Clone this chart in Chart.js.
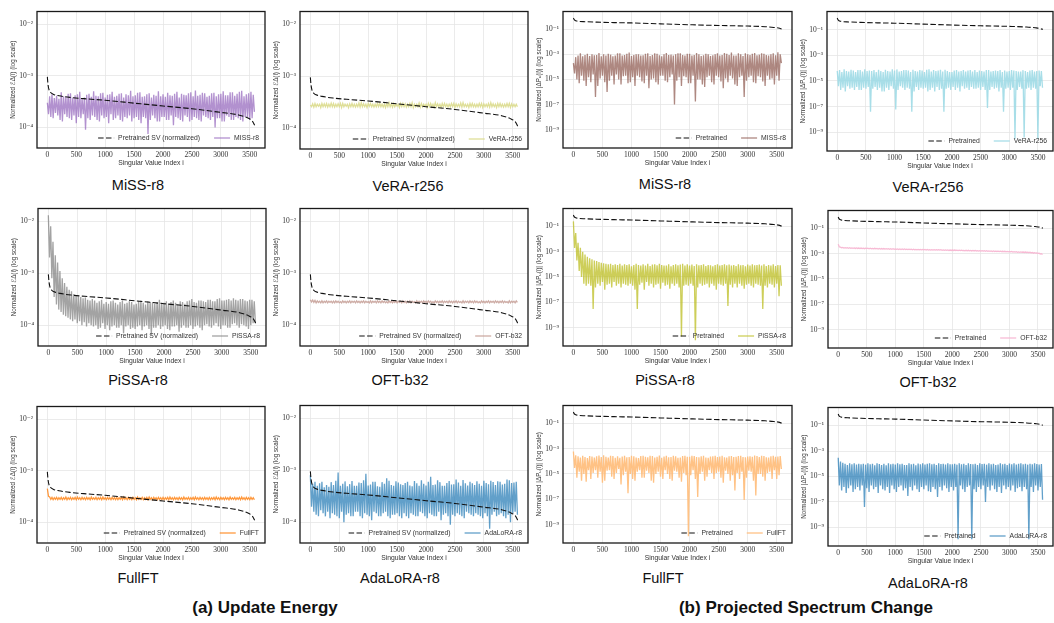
<!DOCTYPE html>
<html>
<head>
<meta charset="utf-8">
<script src="https://cdn.jsdelivr.net/npm/chart.js@4.4.0/dist/chart.umd.min.js"></script>
<style>
  body { margin: 0; width: 1054px; height: 623px; background: #fff; position: relative; overflow: hidden; font-family: "Liberation Sans", Arial, sans-serif; }
  .panel { position: absolute; }
  .title { position: absolute; font-size: 14.5px; color: #111; transform: translate(-50%, -50%); white-space: nowrap; }
  .caption { position: absolute; font-size: 17px; font-weight: bold; color: #111; transform: translate(-50%, -50%); white-space: nowrap; }
</style>
</head>
<body>
<div id="fig"></div>
<div class="caption" style="left:265px; top:608px">(a) Update Energy</div>
<div class="caption" style="left:806px; top:608px">(b) Projected Spectrum Change</div>
<script>
// ----- data -----
// sampled singular value indices for the noisy series (every 20th index)
const sampleIdx = [
  0, 20, 40, 60, 80, 100, 120, 140, 160, 180, 200, 220, 240, 260, 280, 300, 320, 340, 360, 380,
  400, 420, 440, 460, 480, 500, 520, 540, 560, 580, 600, 620, 640, 660, 680, 700, 720, 740, 760, 780,
  800, 820, 840, 860, 880, 900, 920, 940, 960, 980, 1000, 1020, 1040, 1060, 1080, 1100, 1120, 1140, 1160, 1180,
  1200, 1220, 1240, 1260, 1280, 1300, 1320, 1340, 1360, 1380, 1400, 1420, 1440, 1460, 1480, 1500, 1520, 1540, 1560, 1580,
  1600, 1620, 1640, 1660, 1680, 1700, 1720, 1740, 1760, 1780, 1800, 1820, 1840, 1860, 1880, 1900, 1920, 1940, 1960, 1980,
  2000, 2020, 2040, 2060, 2080, 2100, 2120, 2140, 2160, 2180, 2200, 2220, 2240, 2260, 2280, 2300, 2320, 2340, 2360, 2380,
  2400, 2420, 2440, 2460, 2480, 2500, 2520, 2540, 2560, 2580, 2600, 2620, 2640, 2660, 2680, 2700, 2720, 2740, 2760, 2780,
  2800, 2820, 2840, 2860, 2880, 2900, 2920, 2940, 2960, 2980, 3000, 3020, 3040, 3060, 3080, 3100, 3120, 3140, 3160, 3180,
  3200, 3220, 3240, 3260, 3280, 3300, 3320, 3340, 3360, 3380, 3400, 3420, 3440, 3460, 3480, 3500, 3520, 3540, 3560, 3580
];

// pretrained singular value curves
const svIdx = [0, 10, 30, 60, 100, 200, 400, 700, 1000, 1500, 2000, 2500, 3000, 3300, 3450, 3550, 3584];
const svEnergy = [9.5e-4, 7.0e-4, 5.3e-4, 4.7e-4, 4.4e-4, 4.1e-4, 3.8e-4, 3.55e-4, 3.35e-4, 2.95e-4, 2.6e-4, 2.3e-4, 1.95e-4, 1.75e-4, 1.55e-4, 1.3e-4, 1.1e-4];
const svProj = [0.8, 0.62, 0.5, 0.45, 0.42, 0.4, 0.37, 0.34, 0.32, 0.27, 0.23, 0.2, 0.18, 0.16, 0.14, 0.12, 0.105];

// (a) update energy
const missEnergy = [
  3.0e-4, 1.8e-4, 4.0e-4, 1.6e-4, 4.4e-4, 1.5e-4, 3.7e-4, 1.9e-4, 4.1e-4, 1.7e-4, 3.6e-4, 1.4e-4, 4.8e-4, 1.3e-4, 4.0e-4, 1.8e-4, 3.9e-4, 1.6e-4, 4.5e-4, 1.5e-4,
  4.6e-4, 1.4e-4, 3.8e-4, 1.7e-4, 4.2e-4, 1.2e-4, 4.4e-4, 1.6e-4, 4.9e-4, 1.5e-4, 3.7e-4, 1.8e-4, 3.8e-4, 9.0e-5, 4.3e-4, 1.5e-4, 4.5e-4, 1.4e-4, 3.9e-4, 1.7e-4,
  5.0e-4, 1.6e-4, 4.1e-4, 1.4e-4, 4.0e-4, 1.3e-4, 4.6e-4, 1.7e-4, 4.7e-4, 1.5e-4, 3.8e-4, 1.6e-4, 4.3e-4, 1.2e-4, 4.4e-4, 1.8e-4, 4.9e-4, 1.4e-4, 3.9e-4, 1.5e-4,
  4.1e-4, 1.7e-4, 4.5e-4, 1.4e-4, 4.6e-4, 1.3e-4, 3.8e-4, 1.6e-4, 4.4e-4, 1.5e-4, 4.2e-4, 1.7e-4, 5.1e-4, 1.3e-4, 4.0e-4, 1.5e-4, 4.2e-4, 1.6e-4, 4.7e-4, 1.4e-4,
  4.8e-4, 1.2e-4, 3.9e-4, 1.6e-4, 4.0e-4, 1.5e-4, 4.4e-4, 7.5e-5, 4.6e-4, 1.4e-4, 3.8e-4, 1.7e-4, 4.3e-4, 1.5e-4, 4.1e-4, 1.3e-4, 5.0e-4, 1.3e-4, 4.0e-4, 1.6e-4,
  4.4e-4, 1.6e-4, 3.9e-4, 1.4e-4, 4.7e-4, 1.4e-4, 4.2e-4, 1.7e-4, 4.1e-4, 1.1e-4, 4.5e-4, 1.6e-4, 4.9e-4, 1.5e-4, 3.8e-4, 1.4e-4, 4.5e-4, 1.3e-4, 4.3e-4, 1.7e-4,
  4.2e-4, 1.6e-4, 4.6e-4, 1.3e-4, 4.8e-4, 1.4e-4, 4.0e-4, 1.6e-4, 5.2e-4, 1.5e-4, 4.1e-4, 1.4e-4, 4.3e-4, 1.3e-4, 4.7e-4, 1.7e-4, 4.6e-4, 1.6e-4, 3.9e-4, 1.5e-4,
  4.1e-4, 1.4e-4, 4.6e-4, 1.6e-4, 4.7e-4, 1.0e-4, 4.0e-4, 1.5e-4, 4.4e-4, 1.5e-4, 4.5e-4, 1.3e-4, 5.0e-4, 1.3e-4, 4.2e-4, 1.7e-4, 4.2e-4, 1.6e-4, 4.8e-4, 1.4e-4,
  4.8e-4, 1.4e-4, 4.1e-4, 1.6e-4, 4.5e-4, 1.5e-4, 4.9e-4, 1.4e-4, 5.1e-4, 1.3e-4, 4.0e-4, 1.6e-4, 4.4e-4, 1.6e-4, 4.6e-4, 1.4e-4, 4.9e-4, 1.5e-4, 4.3e-4, 2.0e-4
];
const veraEnergy = [
  2.8e-4, 2.6e-4, 2.95e-4, 2.55e-4, 3.0e-4, 2.6e-4, 2.9e-4, 2.65e-4, 2.9e-4, 2.5e-4, 3.0e-4, 2.6e-4, 2.95e-4, 2.6e-4, 3.0e-4, 2.55e-4, 2.9e-4, 2.6e-4, 3.05e-4, 2.6e-4,
  3.0e-4, 2.55e-4, 2.9e-4, 2.6e-4, 2.95e-4, 2.6e-4, 3.0e-4, 2.5e-4, 3.0e-4, 2.6e-4, 2.9e-4, 2.65e-4, 2.9e-4, 2.5e-4, 2.95e-4, 2.6e-4, 3.0e-4, 2.6e-4, 2.9e-4, 2.55e-4,
  2.9e-4, 2.6e-4, 3.05e-4, 2.55e-4, 3.1e-4, 2.6e-4, 2.95e-4, 2.6e-4, 2.9e-4, 2.5e-4, 3.0e-4, 2.65e-4, 3.0e-4, 2.6e-4, 2.9e-4, 2.55e-4, 2.9e-4, 2.6e-4, 3.0e-4, 2.6e-4,
  3.0e-4, 2.6e-4, 2.9e-4, 2.55e-4, 2.9e-4, 2.5e-4, 3.0e-4, 2.6e-4, 3.1e-4, 2.6e-4, 2.95e-4, 2.55e-4, 3.0e-4, 2.6e-4, 2.9e-4, 2.65e-4, 2.9e-4, 2.5e-4, 3.0e-4, 2.6e-4,
  3.0e-4, 2.6e-4, 2.95e-4, 2.55e-4, 2.9e-4, 2.6e-4, 3.0e-4, 2.6e-4, 3.1e-4, 2.5e-4, 2.9e-4, 2.6e-4, 2.9e-4, 2.6e-4, 3.05e-4, 2.55e-4, 3.0e-4, 2.6e-4, 2.9e-4, 2.65e-4,
  2.9e-4, 2.5e-4, 3.0e-4, 2.6e-4, 3.0e-4, 2.6e-4, 2.9e-4, 2.55e-4, 3.1e-4, 2.6e-4, 2.95e-4, 2.6e-4, 2.9e-4, 2.5e-4, 3.0e-4, 2.6e-4, 3.0e-4, 2.6e-4, 2.9e-4, 2.55e-4,
  2.9e-4, 2.6e-4, 3.0e-4, 2.6e-4, 3.0e-4, 2.5e-4, 2.95e-4, 2.6e-4, 2.9e-4, 2.6e-4, 3.05e-4, 2.55e-4, 3.1e-4, 2.6e-4, 2.9e-4, 2.6e-4, 2.9e-4, 2.5e-4, 3.0e-4, 2.6e-4,
  3.0e-4, 2.6e-4, 2.9e-4, 2.55e-4, 2.9e-4, 2.6e-4, 3.0e-4, 2.6e-4, 3.0e-4, 2.5e-4, 2.95e-4, 2.6e-4, 2.9e-4, 2.6e-4, 3.0e-4, 2.55e-4, 3.1e-4, 2.6e-4, 2.95e-4, 2.6e-4,
  2.9e-4, 2.5e-4, 3.0e-4, 2.6e-4, 3.0e-4, 2.6e-4, 2.9e-4, 2.55e-4, 2.9e-4, 2.6e-4, 3.0e-4, 2.6e-4, 3.0e-4, 2.5e-4, 2.95e-4, 2.6e-4, 2.9e-4, 2.6e-4, 2.9e-4, 2.6e-4
];
const pissaEnergy = [
  1.3e-2, 2.0e-3, 8.0e-3, 8.0e-4, 4.0e-3, 3.5e-4, 2.2e-3, 2.5e-4, 1.6e-3, 2.0e-4, 1.1e-3, 1.8e-4, 8.0e-4, 1.6e-4, 6.5e-4, 1.5e-4, 5.5e-4, 1.4e-4, 4.8e-4, 1.3e-4,
  4.5e-4, 1.2e-4, 4.0e-4, 1.3e-4, 3.8e-4, 1.1e-4, 3.6e-4, 1.2e-4, 3.5e-4, 1.0e-4, 3.3e-4, 1.15e-4, 3.4e-4, 9.5e-5, 3.1e-4, 1.1e-4, 3.0e-4, 1.0e-4, 3.2e-4, 9.5e-5,
  3.0e-4, 1.0e-4, 2.7e-4, 8.5e-5, 2.9e-4, 9.0e-5, 3.1e-4, 1.1e-4, 2.6e-4, 8.5e-5, 2.8e-4, 1.0e-4, 2.6e-4, 8.0e-5, 2.9e-4, 9.5e-5, 3.0e-4, 1.0e-4, 2.7e-4, 9.0e-5,
  2.5e-4, 9.0e-5, 2.8e-4, 1.0e-4, 3.0e-4, 7.0e-5, 2.6e-4, 9.5e-5, 2.7e-4, 1.0e-4, 2.9e-4, 8.5e-5, 2.8e-4, 9.0e-5, 2.5e-4, 8.5e-5, 2.6e-4, 9.5e-5, 2.9e-4, 1.0e-4,
  3.0e-4, 8.0e-5, 2.7e-4, 9.5e-5, 2.5e-4, 1.0e-4, 2.9e-4, 8.5e-5, 2.8e-4, 6.5e-5, 2.7e-4, 9.0e-5, 2.6e-4, 9.0e-5, 2.8e-4, 1.0e-4, 3.1e-4, 8.5e-5, 2.7e-4, 9.5e-5,
  2.7e-4, 1.0e-4, 2.9e-4, 8.5e-5, 2.6e-4, 8.0e-5, 2.8e-4, 9.5e-5, 3.0e-4, 9.5e-5, 2.7e-4, 1.0e-4, 2.5e-4, 7.5e-5, 2.9e-4, 9.0e-5, 2.8e-4, 1.0e-4, 2.6e-4, 9.0e-5,
  2.9e-4, 9.0e-5, 3.0e-4, 1.0e-4, 3.2e-4, 8.5e-5, 2.8e-4, 9.5e-5, 2.7e-4, 1.0e-4, 3.0e-4, 9.0e-5, 3.0e-4, 8.0e-5, 2.9e-4, 1.0e-4, 2.8e-4, 1.05e-4, 3.1e-4, 9.5e-5,
  3.1e-4, 9.0e-5, 2.9e-4, 1.0e-4, 2.9e-4, 1.1e-4, 3.2e-4, 9.5e-5, 3.3e-4, 8.5e-5, 3.0e-4, 1.0e-4, 3.0e-4, 1.0e-4, 3.1e-4, 9.0e-5, 3.2e-4, 9.0e-5, 3.0e-4, 1.05e-4,
  3.3e-4, 1.1e-4, 3.1e-4, 1.0e-4, 3.0e-4, 9.0e-5, 3.2e-4, 1.05e-4, 3.2e-4, 1.0e-4, 3.0e-4, 9.5e-5, 2.9e-4, 8.5e-5, 3.1e-4, 1.0e-4, 3.1e-4, 1.1e-4, 2.9e-4, 1.1e-4
];
const oftEnergy = [
  3.1e-4, 2.8e-4, 3.05e-4, 2.75e-4, 3.0e-4, 2.7e-4, 2.95e-4, 2.75e-4, 2.9e-4, 2.7e-4, 2.95e-4, 2.7e-4, 2.9e-4, 2.75e-4, 2.95e-4, 2.7e-4, 2.9e-4, 2.75e-4, 2.9e-4, 2.7e-4,
  2.9e-4, 2.7e-4, 2.95e-4, 2.75e-4, 2.9e-4, 2.7e-4, 2.85e-4, 2.7e-4, 2.95e-4, 2.75e-4, 2.9e-4, 2.7e-4, 2.9e-4, 2.75e-4, 2.95e-4, 2.7e-4, 2.9e-4, 2.75e-4, 2.9e-4, 2.7e-4,
  2.95e-4, 2.75e-4, 2.9e-4, 2.7e-4, 2.9e-4, 2.75e-4, 2.95e-4, 2.7e-4, 2.9e-4, 2.75e-4, 2.85e-4, 2.7e-4, 2.95e-4, 2.7e-4, 2.9e-4, 2.75e-4, 2.9e-4, 2.7e-4, 2.95e-4, 2.75e-4,
  2.9e-4, 2.7e-4, 2.95e-4, 2.75e-4, 2.9e-4, 2.7e-4, 2.85e-4, 2.7e-4, 2.95e-4, 2.75e-4, 2.9e-4, 2.7e-4, 2.9e-4, 2.75e-4, 2.95e-4, 2.7e-4, 2.9e-4, 2.75e-4, 2.9e-4, 2.7e-4,
  2.95e-4, 2.75e-4, 2.9e-4, 2.7e-4, 2.9e-4, 2.75e-4, 2.95e-4, 2.7e-4, 2.9e-4, 2.75e-4, 2.85e-4, 2.7e-4, 2.95e-4, 2.7e-4, 2.9e-4, 2.75e-4, 2.9e-4, 2.7e-4, 2.95e-4, 2.75e-4,
  2.9e-4, 2.7e-4, 2.95e-4, 2.75e-4, 2.9e-4, 2.7e-4, 2.85e-4, 2.7e-4, 2.95e-4, 2.75e-4, 2.9e-4, 2.7e-4, 2.9e-4, 2.75e-4, 2.95e-4, 2.7e-4, 2.9e-4, 2.75e-4, 2.9e-4, 2.7e-4,
  2.95e-4, 2.75e-4, 2.9e-4, 2.7e-4, 2.9e-4, 2.75e-4, 2.95e-4, 2.7e-4, 2.9e-4, 2.75e-4, 2.85e-4, 2.7e-4, 2.95e-4, 2.7e-4, 2.9e-4, 2.75e-4, 2.9e-4, 2.7e-4, 2.95e-4, 2.75e-4,
  2.9e-4, 2.7e-4, 2.95e-4, 2.75e-4, 2.9e-4, 2.7e-4, 2.85e-4, 2.7e-4, 2.95e-4, 2.75e-4, 2.9e-4, 2.7e-4, 2.9e-4, 2.75e-4, 2.95e-4, 2.7e-4, 2.9e-4, 2.75e-4, 2.9e-4, 2.7e-4,
  2.95e-4, 2.75e-4, 2.9e-4, 2.7e-4, 2.9e-4, 2.75e-4, 2.95e-4, 2.7e-4, 2.9e-4, 2.75e-4, 2.85e-4, 2.7e-4, 2.95e-4, 2.7e-4, 2.9e-4, 2.75e-4, 2.9e-4, 2.7e-4, 2.95e-4, 2.75e-4
];
const fullEnergy = [
  4.5e-4, 3.2e-4, 3.1e-4, 2.8e-4, 3.05e-4, 2.75e-4, 3.0e-4, 2.8e-4, 3.05e-4, 2.75e-4, 3.0e-4, 2.8e-4, 3.05e-4, 2.75e-4, 3.0e-4, 2.8e-4, 3.1e-4, 2.75e-4, 3.0e-4, 2.8e-4,
  3.05e-4, 2.75e-4, 3.0e-4, 2.8e-4, 3.05e-4, 2.75e-4, 3.1e-4, 2.8e-4, 3.0e-4, 2.75e-4, 3.05e-4, 2.8e-4, 3.0e-4, 2.75e-4, 3.05e-4, 2.8e-4, 3.0e-4, 2.75e-4, 3.1e-4, 2.8e-4,
  3.0e-4, 2.8e-4, 3.05e-4, 2.75e-4, 3.0e-4, 2.8e-4, 3.05e-4, 2.75e-4, 3.1e-4, 2.8e-4, 3.0e-4, 2.75e-4, 3.05e-4, 2.8e-4, 3.0e-4, 2.75e-4, 3.05e-4, 2.8e-4, 3.0e-4, 2.75e-4,
  3.05e-4, 2.75e-4, 3.0e-4, 2.8e-4, 3.05e-4, 2.75e-4, 3.1e-4, 2.8e-4, 3.0e-4, 2.75e-4, 3.05e-4, 2.8e-4, 3.0e-4, 2.75e-4, 3.05e-4, 2.8e-4, 3.0e-4, 2.75e-4, 3.1e-4, 2.8e-4,
  3.0e-4, 2.8e-4, 3.05e-4, 2.75e-4, 3.0e-4, 2.8e-4, 3.05e-4, 2.75e-4, 3.1e-4, 2.8e-4, 3.0e-4, 2.75e-4, 3.05e-4, 2.8e-4, 3.0e-4, 2.75e-4, 3.05e-4, 2.8e-4, 3.0e-4, 2.75e-4,
  3.05e-4, 2.75e-4, 3.0e-4, 2.8e-4, 3.05e-4, 2.75e-4, 3.1e-4, 2.8e-4, 3.0e-4, 2.75e-4, 3.05e-4, 2.8e-4, 3.0e-4, 2.75e-4, 3.05e-4, 2.8e-4, 3.0e-4, 2.75e-4, 3.1e-4, 2.8e-4,
  3.0e-4, 2.8e-4, 3.05e-4, 2.75e-4, 3.0e-4, 2.8e-4, 3.05e-4, 2.75e-4, 3.1e-4, 2.8e-4, 3.0e-4, 2.75e-4, 3.05e-4, 2.8e-4, 3.0e-4, 2.75e-4, 3.05e-4, 2.8e-4, 3.0e-4, 2.75e-4,
  3.05e-4, 2.75e-4, 3.0e-4, 2.8e-4, 3.05e-4, 2.75e-4, 3.1e-4, 2.8e-4, 3.0e-4, 2.75e-4, 3.05e-4, 2.8e-4, 3.0e-4, 2.75e-4, 3.05e-4, 2.8e-4, 3.0e-4, 2.75e-4, 3.1e-4, 2.8e-4,
  3.0e-4, 2.8e-4, 3.05e-4, 2.75e-4, 3.0e-4, 2.8e-4, 3.05e-4, 2.75e-4, 3.1e-4, 2.8e-4, 3.0e-4, 2.75e-4, 3.05e-4, 2.8e-4, 3.0e-4, 2.75e-4, 3.05e-4, 2.8e-4, 3.0e-4, 2.75e-4
];
const adaEnergy = [
  8.0e-4, 2.0e-4, 5.5e-4, 1.6e-4, 6.0e-4, 1.4e-4, 5.0e-4, 1.3e-4, 5.6e-4, 1.7e-4, 6.0e-4, 1.5e-4, 4.7e-4, 1.3e-4, 5.2e-4, 1.6e-4, 4.8e-4, 1.2e-4, 5.9e-4, 1.5e-4,
  5.2e-4, 1.4e-4, 6.3e-4, 1.3e-4, 9.0e-4, 1.2e-4, 5.0e-4, 1.6e-4, 5.5e-4, 1.0e-4, 6.1e-4, 1.4e-4, 4.9e-4, 1.5e-4, 5.4e-4, 1.3e-4, 6.2e-4, 1.3e-4, 5.0e-4, 1.6e-4,
  5.0e-4, 1.6e-4, 5.8e-4, 1.3e-4, 5.7e-4, 1.2e-4, 6.4e-4, 1.5e-4, 8.5e-4, 1.4e-4, 5.1e-4, 1.3e-4, 5.3e-4, 1.1e-4, 6.0e-4, 1.6e-4, 6.0e-4, 1.5e-4, 4.9e-4, 1.3e-4,
  4.8e-4, 1.3e-4, 5.9e-4, 1.5e-4, 5.5e-4, 1.6e-4, 7.0e-4, 1.3e-4, 6.3e-4, 1.2e-4, 5.2e-4, 1.4e-4, 5.0e-4, 1.4e-4, 6.1e-4, 1.5e-4, 5.8e-4, 1.3e-4, 5.4e-4, 1.2e-4,
  5.2e-4, 1.5e-4, 5.7e-4, 1.3e-4, 6.0e-4, 1.2e-4, 5.1e-4, 1.5e-4, 4.9e-4, 1.4e-4, 6.2e-4, 1.3e-4, 5.6e-4, 1.3e-4, 5.0e-4, 1.6e-4, 6.4e-4, 1.5e-4, 5.5e-4, 1.3e-4,
  5.1e-4, 1.2e-4, 6.0e-4, 1.5e-4, 7.5e-4, 1.4e-4, 5.2e-4, 1.3e-4, 5.3e-4, 1.3e-4, 6.4e-4, 1.6e-4, 5.9e-4, 1.1e-4, 5.0e-4, 1.4e-4, 5.0e-4, 1.5e-4, 5.7e-4, 1.3e-4,
  6.2e-4, 9.0e-5, 5.3e-4, 1.4e-4, 5.4e-4, 1.3e-4, 6.6e-4, 1.5e-4, 5.8e-4, 1.4e-4, 5.0e-4, 1.3e-4, 6.5e-4, 1.2e-4, 5.6e-4, 1.6e-4, 5.1e-4, 1.5e-4, 6.0e-4, 1.4e-4,
  5.6e-4, 1.3e-4, 5.2e-4, 1.5e-4, 6.1e-4, 1.4e-4, 5.5e-4, 1.3e-4, 5.0e-4, 1.2e-4, 6.3e-4, 1.5e-4, 5.7e-4, 1.3e-4, 5.4e-4, 7.5e-5, 6.3e-4, 1.4e-4, 5.9e-4, 1.6e-4,
  5.2e-4, 1.3e-4, 6.1e-4, 1.4e-4, 6.0e-4, 1.5e-4, 5.3e-4, 1.3e-4, 5.5e-4, 1.2e-4, 6.6e-4, 1.4e-4, 6.4e-4, 1.0e-4, 5.7e-4, 1.5e-4, 5.8e-4, 1.6e-4, 6.0e-4, 1.4e-4
];

// (b) projected spectrum change
const missProj = [
  2.0e-4, 3.0e-5, 6.0e-4, 1.0e-5, 8.0e-4, 5.0e-6, 1.2e-3, 2.0e-5, 7.0e-4, 8.0e-6, 9.0e-4, 3.0e-6, 1.1e-3, 1.5e-5, 7.5e-4, 6.0e-6, 1.0e-3, 2.5e-5, 8.5e-4, 4.0e-7,
  9.0e-4, 3.0e-6, 1.3e-3, 1.2e-5, 7.0e-4, 2.0e-5, 1.0e-3, 6.0e-6, 8.0e-4, 1.0e-6, 1.1e-3, 8.0e-6, 9.5e-4, 2.0e-5, 7.0e-4, 4.0e-6, 8.0e-4, 2.5e-5, 1.2e-3, 1.0e-5,
  1.2e-3, 4.0e-6, 8.0e-4, 1.8e-5, 9.0e-4, 2.0e-5, 1.1e-3, 5.0e-6, 1.4e-3, 6.0e-6, 7.5e-4, 1.5e-5, 9.0e-4, 3.0e-6, 1.0e-3, 2.0e-5, 1.0e-3, 1.5e-5, 8.0e-4, 7.0e-6,
  8.5e-4, 5.0e-6, 1.1e-3, 2.0e-5, 1.2e-3, 2.0e-6, 7.5e-4, 1.0e-5, 9.0e-4, 1.2e-5, 1.2e-3, 6.0e-6, 1.1e-3, 4.0e-6, 8.5e-4, 2.0e-5, 7.0e-4, 2.0e-5, 1.0e-3, 8.0e-6,
  1.3e-3, 6.0e-6, 9.0e-4, 1.5e-5, 9.5e-4, 2.5e-5, 8.0e-4, 1.0e-7, 1.0e-3, 8.0e-6, 1.2e-3, 1.5e-5, 1.2e-3, 3.0e-6, 9.0e-4, 1.8e-5, 8.0e-4, 1.5e-5, 1.1e-3, 5.0e-6,
  1.1e-3, 5.0e-6, 8.0e-4, 2.0e-5, 9.0e-4, 1.8e-7, 1.3e-3, 1.0e-5, 1.0e-3, 1.0e-5, 7.5e-4, 4.0e-6, 8.5e-4, 2.5e-6, 1.1e-3, 1.5e-5, 1.0e-3, 2.0e-5, 7.5e-4, 6.0e-6,
  8.5e-4, 4.0e-6, 1.0e-3, 2.0e-5, 1.2e-3, 1.5e-5, 8.0e-4, 7.0e-6, 9.0e-4, 2.0e-6, 1.3e-3, 1.2e-5, 1.1e-3, 6.0e-6, 9.0e-4, 2.0e-5, 1.4e-3, 1.2e-5, 8.0e-4, 4.0e-6,
  8.0e-4, 3.0e-6, 1.2e-3, 1.5e-5, 1.0e-3, 2.0e-5, 7.5e-4, 4.0e-7, 1.2e-3, 8.0e-6, 1.0e-3, 1.5e-5, 9.0e-4, 2.0e-5, 1.1e-3, 6.0e-6, 1.3e-3, 5.0e-6, 8.5e-4, 1.8e-5,
  9.5e-4, 1.5e-5, 1.2e-3, 7.0e-6, 1.1e-3, 3.0e-6, 9.0e-4, 2.0e-5, 8.0e-4, 1.0e-5, 1.0e-3, 1.2e-5, 1.2e-3, 4.0e-6, 8.5e-4, 2.0e-5, 1.5e-3, 8.0e-6, 1.0e-3, 2.0e-4
];
const veraProj = [
  6.0e-5, 4.0e-6, 7.0e-5, 2.0e-6, 5.0e-5, 3.0e-6, 8.0e-5, 1.5e-6, 6.0e-5, 4.0e-6, 5.5e-5, 2.5e-6, 7.5e-5, 3.0e-6, 6.5e-5, 2.0e-6, 5.0e-5, 3.5e-6, 7.0e-5, 2.0e-6,
  7.0e-5, 2.0e-6, 5.5e-5, 3.0e-6, 8.0e-5, 2.5e-6, 6.0e-5, 3.5e-6, 6.5e-5, 4.0e-8, 6.0e-5, 2.5e-6, 7.0e-5, 3.5e-6, 5.0e-5, 2.0e-6, 7.5e-5, 3.0e-6, 6.0e-5, 1.5e-6,
  5.0e-5, 1.5e-6, 7.5e-5, 3.0e-6, 6.0e-5, 2.0e-6, 5.5e-5, 4.0e-6, 8.0e-5, 2.5e-6, 6.5e-5, 6.0e-8, 8.0e-5, 2.0e-6, 5.5e-5, 4.0e-6, 6.0e-5, 3.0e-6, 7.0e-5, 2.0e-6,
  7.0e-5, 3.0e-6, 6.5e-5, 2.5e-6, 5.0e-5, 4.0e-8, 7.5e-5, 1.5e-6, 6.0e-5, 3.5e-6, 5.5e-5, 2.0e-6, 7.0e-5, 3.0e-6, 6.5e-5, 2.5e-6, 5.0e-5, 3.0e-6, 7.5e-5, 1.5e-6,
  8.0e-5, 2.0e-6, 5.5e-5, 3.0e-6, 7.0e-5, 1.5e-6, 6.0e-5, 3.5e-6, 6.5e-5, 2.0e-6, 7.5e-5, 2.5e-6, 5.5e-5, 4.0e-8, 7.5e-5, 2.5e-6, 6.0e-5, 3.0e-6, 5.0e-5, 2.0e-6,
  5.0e-5, 3.5e-6, 6.5e-5, 2.0e-6, 7.0e-5, 3.0e-6, 5.5e-5, 1.5e-6, 6.0e-5, 4.0e-6, 7.0e-5, 2.5e-6, 5.5e-5, 3.0e-6, 6.5e-5, 2.0e-6, 7.0e-5, 3.5e-6, 5.5e-5, 2.5e-6,
  7.0e-5, 2.5e-6, 5.0e-5, 3.0e-6, 6.5e-5, 2.0e-6, 6.0e-5, 3.5e-6, 5.5e-5, 2.0e-6, 7.0e-5, 8.0e-8, 7.0e-5, 2.0e-6, 5.5e-5, 3.5e-6, 6.0e-5, 2.5e-6, 6.5e-5, 3.0e-6,
  6.0e-5, 1.5e-6, 7.0e-5, 3.0e-6, 5.0e-5, 4.0e-8, 6.5e-5, 2.5e-6, 5.5e-5, 3.0e-6, 6.0e-5, 2.0e-6, 7.0e-5, 3.0e-6, 6.5e-5, 3.0e-10, 6.0e-5, 2.0e-6, 5.5e-5, 3.5e-6,
  5.5e-5, 2.5e-6, 7.0e-5, 4.0e-10, 6.0e-5, 2.5e-6, 5.0e-5, 3.0e-6, 6.5e-5, 2.0e-6, 7.0e-5, 3.0e-6, 5.5e-5, 2.5e-6, 6.0e-5, 3.0e-10, 6.5e-5, 4.0e-6, 6.0e-5, 3.0e-6
];
const pissaProj = [
  2.5e-1, 2.0e-3, 3.0e-2, 2.0e-4, 5.0e-3, 3.0e-5, 2.0e-3, 1.0e-5, 1.0e-3, 3.0e-6, 6.0e-4, 2.0e-6, 4.0e-4, 3.0e-6, 3.0e-4, 2.0e-6, 2.5e-4, 3.0e-8, 2.0e-4, 1.5e-6,
  1.8e-4, 3.0e-6, 1.5e-4, 2.0e-6, 1.3e-4, 4.0e-6, 1.2e-4, 1.0e-6, 1.1e-4, 2.5e-6, 1.0e-4, 3.0e-6, 1.1e-4, 1.5e-6, 9.0e-5, 4.0e-6, 1.0e-4, 2.0e-6, 9.0e-5, 3.0e-6,
  1.1e-4, 1.5e-6, 8.0e-5, 3.0e-6, 1.0e-4, 2.5e-6, 9.0e-5, 2.0e-6, 1.0e-4, 3.0e-6, 7.0e-5, 2.0e-6, 9.0e-5, 1.0e-6, 1.1e-4, 3.0e-8, 9.0e-5, 2.5e-6, 8.0e-5, 3.5e-6,
  1.0e-4, 1.0e-6, 8.0e-5, 4.0e-6, 1.1e-4, 2.0e-6, 7.5e-5, 3.0e-6, 9.5e-5, 1.5e-6, 1.0e-4, 2.5e-6, 8.5e-5, 3.0e-6, 1.1e-4, 1.2e-6, 9.0e-5, 3.5e-6, 8.0e-5, 2.0e-6,
  8.0e-5, 2.5e-6, 1.0e-4, 1.2e-6, 7.0e-5, 3.0e-6, 9.0e-5, 2.0e-6, 1.0e-4, 3.0e-6, 8.5e-5, 1.5e-6, 9.5e-5, 2.0e-10, 1.1e-4, 2.0e-6, 8.0e-5, 2.5e-6, 1.0e-4, 2.0e-6,
  8.0e-5, 3.0e-6, 9.5e-5, 2.0e-6, 7.5e-5, 1.0e-10, 1.0e-4, 1.5e-6, 8.5e-5, 3.0e-6, 9.0e-5, 2.0e-6, 1.0e-4, 2.5e-6, 7.5e-5, 3.0e-6, 9.0e-5, 1.5e-6, 8.5e-5, 3.0e-6,
  7.0e-5, 2.0e-6, 9.0e-5, 1.0e-6, 1.0e-4, 3.0e-6, 8.0e-5, 2.5e-6, 9.0e-5, 2.0e-6, 1.0e-4, 3.0e-6, 8.5e-5, 5.0e-8, 9.5e-5, 2.5e-6, 8.0e-5, 1.5e-6, 9.0e-5, 3.0e-6,
  7.5e-5, 1.5e-6, 1.0e-4, 3.0e-6, 8.5e-5, 2.0e-6, 9.0e-5, 1.2e-6, 7.0e-5, 2.5e-6, 9.5e-5, 3.0e-6, 8.0e-5, 2.0e-6, 1.0e-4, 1.5e-6, 8.5e-5, 3.0e-6, 9.0e-5, 2.5e-6,
  9.5e-5, 2.0e-6, 8.0e-5, 3.0e-8, 1.0e-4, 2.0e-6, 7.5e-5, 1.5e-6, 9.0e-5, 3.0e-6, 8.0e-5, 2.5e-6, 1.0e-4, 1.5e-6, 7.5e-5, 3.0e-6, 9.0e-5, 3.0e-7, 8.5e-5, 2.0e-6
];
const oftProj = [
  5.5e-3, 3.4e-3, 3.3e-3, 2.9e-3, 3.1e-3, 2.8e-3, 3.0e-3, 2.75e-3, 2.95e-3, 2.7e-3, 2.95e-3, 2.65e-3, 2.9e-3, 2.65e-3, 2.85e-3, 2.6e-3, 2.85e-3, 2.6e-3, 2.8e-3, 2.55e-3,
  2.8e-3, 2.55e-3, 2.75e-3, 2.5e-3, 2.75e-3, 2.5e-3, 2.7e-3, 2.45e-3, 2.7e-3, 2.45e-3, 2.65e-3, 2.4e-3, 2.65e-3, 2.4e-3, 2.6e-3, 2.35e-3, 2.6e-3, 2.35e-3, 2.55e-3, 2.3e-3,
  2.55e-3, 2.3e-3, 2.5e-3, 2.3e-3, 2.5e-3, 2.25e-3, 2.45e-3, 2.25e-3, 2.45e-3, 2.2e-3, 2.4e-3, 2.2e-3, 2.4e-3, 2.15e-3, 2.4e-3, 2.15e-3, 2.35e-3, 2.15e-3, 2.35e-3, 2.1e-3,
  2.3e-3, 2.1e-3, 2.3e-3, 2.1e-3, 2.25e-3, 2.05e-3, 2.25e-3, 2.05e-3, 2.2e-3, 2.05e-3, 2.2e-3, 2.0e-3, 2.2e-3, 2.0e-3, 2.15e-3, 2.0e-3, 2.15e-3, 1.95e-3, 2.15e-3, 1.95e-3,
  2.1e-3, 1.95e-3, 2.1e-3, 1.95e-3, 2.1e-3, 1.9e-3, 2.05e-3, 1.9e-3, 2.05e-3, 1.9e-3, 2.05e-3, 1.85e-3, 2.0e-3, 1.85e-3, 2.0e-3, 1.85e-3, 2.0e-3, 1.8e-3, 1.95e-3, 1.8e-3,
  1.95e-3, 1.8e-3, 1.95e-3, 1.8e-3, 1.9e-3, 1.75e-3, 1.9e-3, 1.75e-3, 1.9e-3, 1.75e-3, 1.85e-3, 1.7e-3, 1.85e-3, 1.7e-3, 1.85e-3, 1.7e-3, 1.8e-3, 1.65e-3, 1.8e-3, 1.65e-3,
  1.8e-3, 1.65e-3, 1.75e-3, 1.6e-3, 1.75e-3, 1.6e-3, 1.75e-3, 1.6e-3, 1.7e-3, 1.55e-3, 1.7e-3, 1.55e-3, 1.65e-3, 1.55e-3, 1.65e-3, 1.5e-3, 1.65e-3, 1.5e-3, 1.6e-3, 1.5e-3,
  1.6e-3, 1.45e-3, 1.6e-3, 1.45e-3, 1.55e-3, 1.45e-3, 1.55e-3, 1.4e-3, 1.5e-3, 1.4e-3, 1.5e-3, 1.4e-3, 1.5e-3, 1.35e-3, 1.45e-3, 1.35e-3, 1.45e-3, 1.3e-3, 1.4e-3, 1.3e-3,
  1.4e-3, 1.3e-3, 1.35e-3, 1.25e-3, 1.35e-3, 1.25e-3, 1.3e-3, 1.2e-3, 1.3e-3, 1.15e-3, 1.25e-3, 1.1e-3, 1.2e-3, 1.1e-3, 1.15e-3, 1.05e-3, 1.1e-3, 9.5e-4, 1.0e-3, 8.5e-4
];
const fullProj = [
  6.0e-4, 3.0e-5, 3.0e-4, 5.0e-6, 2.5e-4, 1.5e-5, 2.0e-4, 3.0e-6, 2.8e-4, 1.0e-5, 2.2e-4, 2.5e-6, 1.8e-4, 2.0e-5, 2.6e-4, 4.0e-6, 2.4e-4, 1.2e-5, 2.0e-4, 2.0e-5,
  2.5e-4, 5.0e-6, 2.9e-4, 1.5e-5, 2.2e-4, 2.0e-6, 3.0e-4, 3.0e-6, 2.3e-4, 1.8e-5, 2.0e-4, 2.0e-5, 2.7e-4, 6.0e-6, 2.6e-4, 4.0e-6, 1.9e-4, 1.2e-5, 2.5e-4, 2.5e-5,
  1.9e-4, 1.5e-6, 2.4e-4, 8.0e-6, 2.7e-4, 1.5e-5, 2.1e-4, 3.0e-7, 2.2e-4, 1.0e-5, 2.8e-4, 4.0e-6, 2.5e-4, 3.0e-6, 2.0e-4, 1.5e-5, 1.8e-4, 2.0e-5, 2.6e-4, 5.0e-6,
  2.8e-4, 5.0e-6, 2.3e-4, 1.8e-5, 2.1e-4, 1.2e-5, 2.7e-4, 3.0e-6, 2.6e-4, 2.0e-6, 2.0e-4, 1.0e-5, 2.3e-4, 1.5e-5, 2.9e-4, 6.0e-6, 1.9e-4, 4.0e-6, 2.4e-4, 2.0e-5,
  2.7e-4, 1.0e-5, 2.1e-4, 4.0e-6, 2.2e-4, 3.0e-6, 2.8e-4, 1.8e-5, 2.5e-4, 1.5e-5, 1.9e-4, 5.0e-6, 2.0e-4, 2.5e-6, 2.6e-4, 1.2e-5, 2.8e-4, 8.0e-6, 2.3e-4, 1.2e-10,
  2.3e-4, 8.0e-6, 2.7e-4, 2.0e-5, 2.6e-4, 4.0e-6, 2.2e-4, 1.5e-7, 2.1e-4, 1.0e-5, 2.5e-4, 1.5e-5, 2.7e-4, 3.0e-6, 2.0e-4, 6.0e-6, 1.9e-4, 2.0e-5, 2.4e-4, 1.2e-5,
  2.5e-4, 4.0e-6, 2.8e-4, 1.2e-5, 2.2e-4, 1.5e-5, 2.4e-4, 5.0e-6, 2.8e-4, 2.0e-6, 2.1e-4, 1.8e-5, 2.0e-4, 1.0e-5, 2.5e-4, 3.0e-6, 2.6e-4, 8.0e-6, 2.2e-4, 5.0e-7,
  2.3e-4, 1.2e-5, 2.6e-4, 4.0e-6, 2.7e-4, 1.5e-5, 2.2e-4, 9.0e-8, 2.1e-4, 5.0e-6, 2.4e-4, 1.8e-5, 2.5e-4, 1.5e-5, 2.3e-4, 3.0e-6, 2.9e-4, 2.0e-7, 2.6e-4, 1.0e-5,
  2.2e-4, 1.0e-5, 2.7e-4, 6.0e-6, 2.6e-4, 3.0e-6, 2.1e-4, 1.2e-5, 2.0e-4, 1.5e-5, 2.5e-4, 4.0e-6, 2.8e-4, 2.0e-5, 2.3e-4, 4.0e-6, 2.4e-4, 8.0e-6, 2.6e-4, 2.5e-5
];
const adaProj = [
  3.0e-4, 2.0e-6, 1.5e-4, 8.0e-7, 1.2e-4, 1.5e-6, 1.0e-4, 5.0e-7, 8.0e-5, 1.2e-6, 1.1e-4, 2.0e-6, 9.0e-5, 6.0e-7, 1.1e-4, 1.0e-6, 8.5e-5, 1.5e-6, 1.0e-4, 8.0e-7,
  9.0e-5, 2.0e-6, 1.0e-4, 4.0e-8, 8.5e-5, 1.2e-6, 1.1e-4, 6.0e-7, 9.0e-5, 2.0e-6, 1.0e-4, 1.0e-6, 7.5e-5, 1.5e-6, 1.1e-4, 5.0e-7, 9.5e-5, 2.0e-6, 8.0e-5, 1.0e-6,
  1.0e-4, 8.0e-7, 7.5e-5, 1.5e-6, 1.1e-4, 5.0e-7, 9.0e-5, 2.0e-6, 1.0e-4, 1.0e-6, 8.5e-5, 6.0e-7, 1.1e-4, 1.5e-6, 9.0e-5, 2.0e-6, 1.0e-4, 8.0e-7, 8.0e-5, 1.2e-6,
  8.0e-5, 3.0e-7, 1.1e-4, 1.5e-6, 9.0e-5, 8.0e-7, 1.0e-4, 2.0e-6, 7.5e-5, 1.0e-6, 1.05e-4, 6.0e-7, 9.0e-5, 1.5e-6, 1.1e-4, 1.0e-6, 8.5e-5, 2.0e-6, 1.0e-4, 7.0e-7,
  1.1e-4, 6.0e-7, 9.0e-5, 1.5e-6, 1.0e-4, 1.0e-6, 8.0e-5, 2.5e-7, 1.1e-4, 1.5e-6, 9.5e-5, 8.0e-7, 1.0e-4, 2.0e-6, 8.5e-5, 1.2e-6, 1.1e-4, 6.0e-7, 9.0e-5, 1.5e-6,
  9.0e-5, 8.0e-7, 1.0e-4, 1.5e-6, 8.5e-5, 1.2e-10, 1.1e-4, 2.0e-6, 9.0e-5, 1.0e-6, 1.0e-4, 6.0e-7, 8.0e-5, 1.5e-6, 1.1e-4, 2.0e-6, 9.5e-5, 1.2e-10, 9.0e-5, 1.0e-6,
  1.0e-4, 6.0e-7, 8.0e-5, 1.5e-6, 1.1e-4, 1.0e-6, 9.5e-5, 2.0e-6, 1.0e-4, 1.0e-7, 8.5e-5, 1.5e-6, 1.1e-4, 8.0e-7, 9.0e-5, 2.0e-6, 1.0e-4, 1.0e-6, 8.0e-5, 6.0e-7,
  8.5e-5, 1.5e-6, 1.1e-4, 5.0e-7, 9.0e-5, 2.0e-6, 1.0e-4, 1.0e-6, 8.0e-5, 1.5e-6, 1.05e-4, 8.0e-7, 9.0e-5, 2.0e-6, 1.1e-4, 6.0e-7, 8.5e-5, 1.2e-6, 1.0e-4, 1.5e-6,
  1.1e-4, 7.0e-7, 9.0e-5, 1.5e-6, 1.0e-4, 1.0e-6, 8.5e-5, 1.2e-10, 1.0e-4, 1.5e-6, 9.0e-5, 6.0e-7, 1.1e-4, 2.0e-6, 9.5e-5, 8.0e-7, 8.5e-5, 1.5e-6, 9.5e-5, 1.5e-7
];

// axis ticks
const xTicks = [0, 500, 1000, 1500, 2000, 2500, 3000, 3500];
const energyTicks = [1e-4, 1e-3, 1e-2];
const energyTickLabels = ['10⁻⁴', '10⁻³', '10⁻²'];
const projTicks = [1e-9, 1e-7, 1e-5, 1e-3, 1e-1];
const projTickLabels = ['10⁻⁹', '10⁻⁷', '10⁻⁵', '10⁻³', '10⁻¹'];

// ----- panel layout -----
const SANS = '"Liberation Sans", "DejaVu Sans", Arial, sans-serif';
const SERIF = '"Liberation Serif", "DejaVu Serif", serif';
const AXIS_W = 30;
const AXIS_H = 22;

const sides = {
  energy: {
    sv: svEnergy, min: 4e-5, max: 1.75e-2, ticks: energyTicks, labels: energyTickLabels,
    ylabel: 'Normalized ℰΔ(i) (log scale)', svName: 'Pretrained SV (normalized)'
  },
  proj: {
    sv: svProj, min: 3.5e-11, max: 2.6, ticks: projTicks, labels: projTickLabels,
    ylabel: 'Normalized |ΔPᵤ(i)| (log scale)', svName: 'Pretrained'
  }
};

const panels = [
  { frame: [37, 4, 265, 148], side: 'energy', values: missEnergy, color: 'rgba(148,103,189,0.72)', legend: 'MISS-r8', title: 'MiSS-r8', titleAt: [138, 185] },
  { frame: [300, 4, 528, 149], side: 'energy', values: veraEnergy, color: 'rgba(219,219,141,0.9)', legend: 'VeRA-r256', title: 'VeRA-r256', titleAt: [408, 186] },
  { frame: [563, 4, 792, 148], side: 'proj', values: missProj, color: 'rgba(140,86,75,0.7)', legend: 'MISS-r8', title: 'MiSS-r8', titleAt: [665, 184] },
  { frame: [827, 4, 1053, 151], side: 'proj', values: veraProj, color: 'rgba(158,218,229,0.9)', legend: 'VeRA-r256', title: 'VeRA-r256', titleAt: [928, 187] },
  { frame: [38, 201, 266, 346], side: 'energy', values: pissaEnergy, color: 'rgba(127,127,127,0.72)', legend: 'PiSSA-r8', title: 'PiSSA-r8', titleAt: [138, 380] },
  { frame: [300, 201, 528, 346], side: 'energy', values: oftEnergy, color: 'rgba(196,156,148,0.85)', legend: 'OFT-b32', title: 'OFT-b32', titleAt: [400, 380] },
  { frame: [563, 201, 792, 346], side: 'proj', values: pissaProj, color: 'rgba(188,189,34,0.75)', legend: 'PiSSA-r8', title: 'PiSSA-r8', titleAt: [665, 380] },
  { frame: [828, 203, 1053, 348], side: 'proj', values: oftProj, color: 'rgba(247,182,210,0.95)', legend: 'OFT-b32', title: 'OFT-b32', titleAt: [928, 382] },
  { frame: [37, 399, 265, 543], side: 'energy', values: fullEnergy, color: 'rgba(255,127,14,0.8)', legend: 'FullFT', title: 'FullFT', titleAt: [138, 578] },
  { frame: [300, 398, 528, 543], side: 'energy', values: adaEnergy, color: 'rgba(31,119,180,0.7)', legend: 'AdaLoRA-r8', title: 'AdaLoRA-r8', titleAt: [400, 578] },
  { frame: [563, 398, 792, 543], side: 'proj', values: fullProj, color: 'rgba(255,187,120,0.9)', legend: 'FullFT', title: 'FullFT', titleAt: [663, 578] },
  { frame: [828, 400, 1053, 546], side: 'proj', values: adaProj, color: 'rgba(31,119,180,0.7)', legend: 'AdaLoRA-r8', title: 'AdaLoRA-r8', titleAt: [928, 583] }
];

// legend inside the plot (bottom right) + black frame round the plot area
function framePlugin(items) {
  return {
    id: 'frameLegend',
    afterDraw(chart) {
      const { ctx, chartArea: a } = chart;
      ctx.save();
      ctx.font = '6.8px ' + SANS;
      ctx.textBaseline = 'middle';
      const y = a.bottom - 10;
      let x = a.right - 6;
      for (let i = items.length - 1; i >= 0; i--) {
        const it = items[i];
        const w = ctx.measureText(it.text).width;
        x -= w;
        ctx.fillStyle = '#333';
        ctx.fillText(it.text, x, y);
        x -= 4;
        ctx.beginPath();
        ctx.setLineDash(it.dash);
        ctx.strokeStyle = it.color;
        ctx.lineWidth = it.width;
        ctx.moveTo(x - 16, y);
        ctx.lineTo(x, y);
        ctx.stroke();
        x -= 16 + 14;
      }
      ctx.setLineDash([]);
      ctx.strokeStyle = '#1a1a1a';
      ctx.lineWidth = 1.3;
      ctx.strokeRect(a.left, a.top, a.right - a.left, a.bottom - a.top);
      ctx.restore();
    }
  };
}

function makePanel(p) {
  const s = sides[p.side];
  const [L, T, R, B] = p.frame;
  const w = (R - L) + AXIS_W + 2;
  const h = (B - T) + 1 + AXIS_H;

  const box = document.createElement('div');
  box.className = 'panel';
  box.style.left = (L - AXIS_W) + 'px';
  box.style.top = (T - 1) + 'px';
  const canvas = document.createElement('canvas');
  canvas.width = w;
  canvas.height = h;
  canvas.style.width = w + 'px';
  canvas.style.height = h + 'px';
  box.appendChild(canvas);
  document.getElementById('fig').appendChild(box);

  const title = document.createElement('div');
  title.className = 'title';
  title.textContent = p.title;
  title.style.left = p.titleAt[0] + 'px';
  title.style.top = p.titleAt[1] + 'px';
  document.body.appendChild(title);

  new Chart(canvas, {
    type: 'line',
    data: {
      datasets: [
        {
          data: svIdx.map((x, k) => ({ x, y: s.sv[k] })),
          borderColor: '#111', borderDash: [5.5, 2.4], borderWidth: 1.1,
          pointRadius: 0, cubicInterpolationMode: 'monotone'
        },
        {
          data: sampleIdx.map((x, k) => ({ x, y: p.values[k] })),
          borderColor: p.color, borderWidth: 1.3, pointRadius: 0, tension: 0
        }
      ]
    },
    options: {
      responsive: false,
      animation: false,
      devicePixelRatio: 1,
      layout: { padding: { top: 1, right: 2, left: 0, bottom: 0 } },
      plugins: { legend: { display: false }, tooltip: { enabled: false } },
      scales: {
        x: {
          type: 'linear', min: -179, max: 3763,
          afterBuildTicks: sc => { sc.ticks = xTicks.map(v => ({ value: v })); },
          afterFit: sc => { sc.height = AXIS_H; },
          ticks: { font: { family: SERIF, size: 7.5 }, color: '#333', padding: 3, maxRotation: 0, autoSkip: false, callback: v => String(v) },
          grid: { color: '#e6e6e6', lineWidth: 0.8, drawTicks: false },
          border: { display: false },
          title: { display: true, text: 'Singular Value Index i', font: { family: SANS, size: 6.8 }, color: '#333', padding: { top: 0, bottom: 3 } }
        },
        y: {
          type: 'logarithmic', min: s.min, max: s.max,
          afterBuildTicks: sc => { sc.ticks = s.ticks.map(v => ({ value: v })); },
          afterFit: sc => { sc.width = AXIS_W; },
          ticks: { font: { family: SERIF, size: 7.5 }, color: '#333', padding: 4, autoSkip: false, callback: (v, i) => s.labels[i] },
          grid: { color: '#e6e6e6', lineWidth: 0.8, drawTicks: false },
          border: { display: false },
          title: { display: true, text: s.ylabel, font: { family: SANS, size: 6.3 }, color: '#333', padding: { top: 2, bottom: 0 } }
        }
      }
    },
    plugins: [framePlugin([
      { text: s.svName, color: '#111', dash: [5.5, 2.4], width: 1.1 },
      { text: p.legend, color: p.color, dash: [], width: 1.3 }
    ])]
  });
}

panels.forEach(makePanel);
</script>
</body>
</html>
